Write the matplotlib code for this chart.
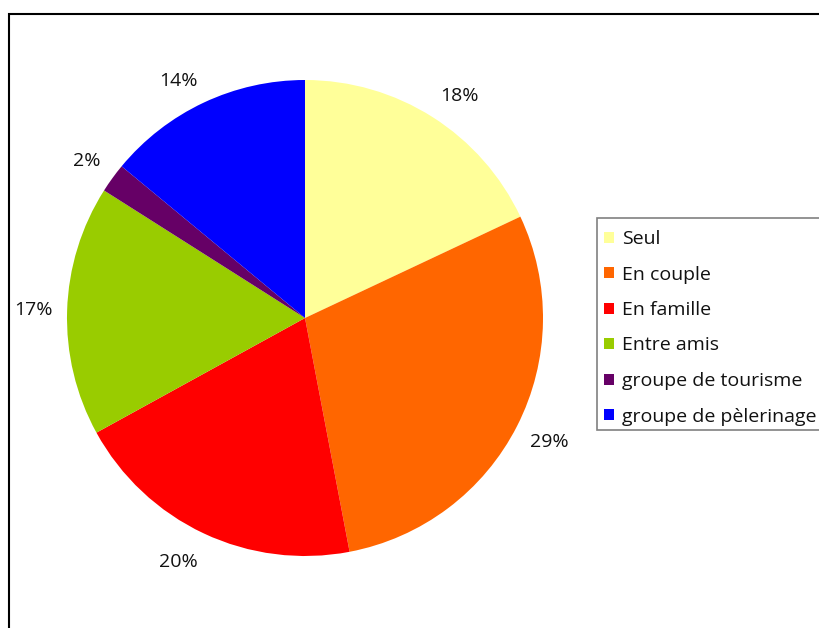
import numpy as np
import matplotlib.pyplot as plt
from matplotlib.patches import Rectangle

plt.rcParams['font.family'] = ['Open Sans', 'DejaVu Sans']

categories = ['Seul', 'En couple', 'En famille', 'Entre amis',
              'groupe de tourisme', 'groupe de pèlerinage']
values = [18, 29, 20, 17, 2, 14]
colors = ['#FFFF99', '#FF6600', '#FF0000', '#99CC00', '#660066', '#0000FF']

W, H = 819, 628
fs = 14
fig = plt.figure(figsize=(W / 100, H / 100), dpi=100)

# pie axes: centre (305, 318) px, radius ~238 px
cx, cy, r = 305, 318, 238
ax = fig.add_axes([(cx - r) / W, (H - cy - r) / H, 2 * r / W, 2 * r / H])
wedges, texts = ax.pie(values, colors=colors, startangle=90, counterclock=False,
                       labels=[f'{v}%' for v in values], labeldistance=1.06,
                       radius=1.0, textprops={'fontsize': fs, 'color': '#111111'})
# anchor each label by its nearest corner, like spreadsheet outside labels
for t in texts:
    x, y = t.get_position()
    ang = np.arctan2(y, x)
    s = np.sin(ang)
    t.set_horizontalalignment('left' if x > 0 else 'right')
    if s > 0.35:
        t.set_verticalalignment('bottom')
    elif s < -0.35:
        t.set_verticalalignment('top')
        if s < -0.8:
            t.set_position((x, y - 0.03))
    else:
        t.set_verticalalignment('center')
ax.set_xlim(-1, 1)
ax.set_ylim(-1, 1)
ax.set_aspect('auto')
ax.axis('off')

# outer chart frame, open on the right and bottom edges
fig.add_artist(Rectangle((9 / W, -0.05), 1.0, (H - 14) / H + 0.05,
                         transform=fig.transFigure, fill=False,
                         edgecolor='black', linewidth=1.5))

# legend box runs past the right edge
fig.add_artist(Rectangle((597 / W, (H - 430) / H), 0.5, 212 / H,
                         transform=fig.transFigure, facecolor='white',
                         edgecolor='#808080', linewidth=1.2))
leg = fig.legend(wedges, categories, loc='upper left',
                 bbox_to_anchor=(604 / W, (H - 230) / H),
                 fontsize=fs, frameon=False,
                 handlelength=0.5, handleheight=0.5, handletextpad=0.45,
                 labelspacing=0.9, borderpad=0.0, borderaxespad=0)
for t in leg.get_texts():
    t.set_color('#111111')

fig.savefig('out.png', dpi=100)
